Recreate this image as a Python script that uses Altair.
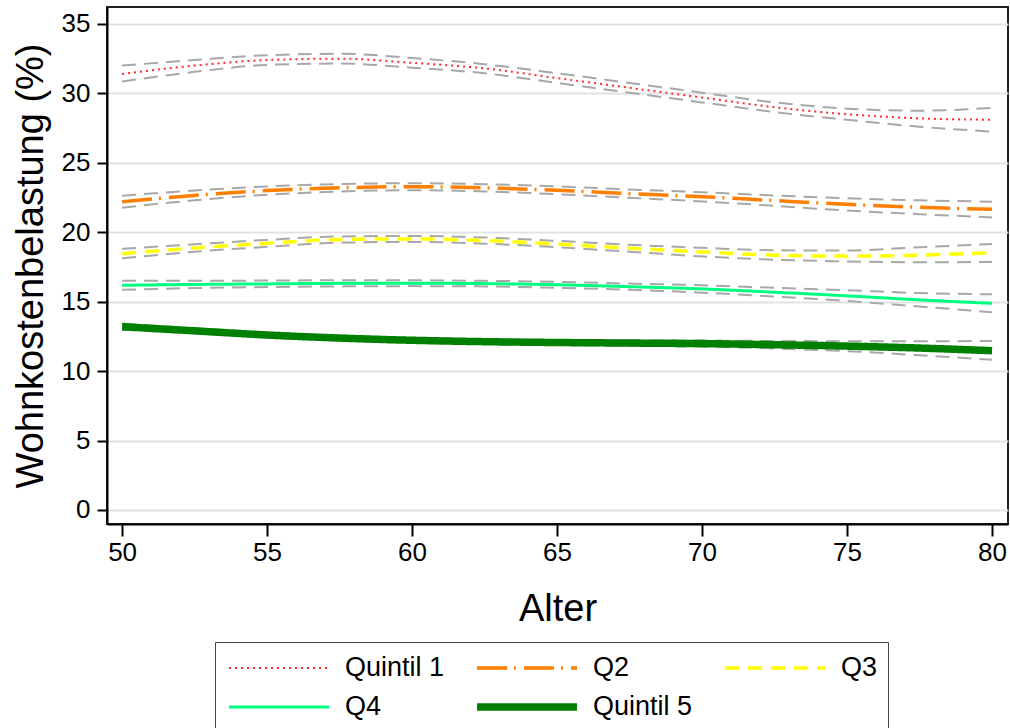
import altair as alt
import pandas as pd

# Age grid (years) and estimated housing-cost burden (%) per income quintile
ages = [50, 52.5, 55, 57.5, 60, 62.5, 65, 67.5, 70, 72.5, 75, 77.5, 80]
series = ["Quintil 1", "Q2", "Q3", "Q4", "Quintil 5"]

q1_est = [31.4, 32.0, 32.4, 32.5, 32.2, 31.8, 31.1, 30.4, 29.7, 29.0, 28.5, 28.2, 28.1]
q1_hi = [32.0, 32.4, 32.75, 32.85, 32.55, 32.1, 31.45, 30.75, 30.05, 29.35, 28.9, 28.75, 28.95]
q1_lo = [30.85, 31.55, 32.05, 32.15, 31.85, 31.45, 30.75, 30.05, 29.35, 28.65, 28.1, 27.6, 27.25]

q2_est = [22.2, 22.65, 23.0, 23.2, 23.28, 23.2, 23.02, 22.78, 22.56, 22.28, 22.01, 21.8, 21.65]
q2_hi = [22.63, 23.0, 23.3, 23.47, 23.53, 23.46, 23.3, 23.08, 22.88, 22.65, 22.44, 22.3, 22.2]
q2_lo = [21.77, 22.3, 22.7, 22.93, 23.03, 22.94, 22.74, 22.48, 22.22, 21.9, 21.56, 21.3, 21.07]

q3_est = [18.45, 18.87, 19.2, 19.48, 19.52, 19.4, 19.15, 18.85, 18.58, 18.35, 18.28, 18.35, 18.53]
q3_hi = [18.8, 19.13, 19.45, 19.7, 19.73, 19.62, 19.38, 19.1, 18.88, 18.7, 18.68, 18.92, 19.15]
q3_lo = [18.12, 18.6, 18.95, 19.25, 19.3, 19.18, 18.92, 18.6, 18.26, 18.02, 17.9, 17.84, 17.86]

q4_est = [16.18, 16.24, 16.28, 16.32, 16.33, 16.3, 16.22, 16.08, 15.92, 15.68, 15.42, 15.13, 14.88]
q4_hi = [16.5, 16.5, 16.52, 16.54, 16.54, 16.5, 16.43, 16.3, 16.18, 16.0, 15.82, 15.62, 15.53]
q4_lo = [15.85, 15.98, 16.05, 16.1, 16.12, 16.1, 16.0, 15.86, 15.65, 15.37, 15.05, 14.65, 14.24]

q5_est = [13.2, 12.9, 12.6, 12.38, 12.22, 12.12, 12.06, 12.02, 11.98, 11.9, 11.8, 11.66, 11.47]
q5_hi = [13.42, 13.08, 12.78, 12.55, 12.39, 12.29, 12.24, 12.21, 12.2, 12.17, 12.15, 12.15, 12.17]
q5_lo = [12.98, 12.72, 12.42, 12.21, 12.05, 11.95, 11.88, 11.83, 11.76, 11.63, 11.44, 11.14, 10.82]

x_ticks = [50, 55, 60, 65, 70, 75, 80]
y_ticks = [0, 5, 10, 15, 20, 25, 30, 35]

# Line styles per quintile
colors = ["#ff2a2a", "#ff7f00", "#ffff00", "#00ff7f", "#008000"]
dashes = [[2, 4], [30, 7, 2, 8], [14, 9], [1, 0], [1, 0]]
widths = [2, 3.5, 3.5, 3, 7.5]

FONT = "Liberation Sans"

est = [q1_est, q2_est, q3_est, q4_est, q5_est]
his = [q1_hi, q2_hi, q3_hi, q4_hi, q5_hi]
los = [q1_lo, q2_lo, q3_lo, q4_lo, q5_lo]

rows, ci_rows = [], []
for name, e, h, l in zip(series, est, his, los):
    for a, ev, hv, lv in zip(ages, e, h, l):
        rows.append({"series": name, "age": a, "value": ev})
        ci_rows.append({"band": name + " hi", "age": a, "value": hv})
        ci_rows.append({"band": name + " lo", "age": a, "value": lv})
df = pd.DataFrame(rows)
ci = pd.DataFrame(ci_rows)

x_enc = alt.X(
    "age:Q",
    scale=alt.Scale(domain=[49.48, 80.55], nice=False, zero=False),
    axis=alt.Axis(
        values=x_ticks, grid=False, title="Alter", titleFontSize=38,
        titleFontWeight="normal", titleFont=FONT, titleColor="black",
        titleY=96, titleBaseline="alphabetic",
        labelFont=FONT, labelFontSize=26, labelColor="black", labelPadding=3,
        tickSize=12, tickWidth=2, tickColor="black",
        domainColor="black", domainWidth=2,
    ),
)
y_axis = alt.Axis(
    values=y_ticks, grid=True, gridColor="#e2e2e2", gridWidth=2,
    title="Wohnkostenbelastung (%)", titleFontSize=38, titleFontWeight="normal",
    titleFont=FONT, titleColor="black", titleAngle=270, titleX=-65, titleY=258.5,
    titleBaseline="alphabetic", titleAlign="center",
    labelFont=FONT, labelFontSize=26, labelColor="black", labelPadding=7,
    tickSize=10, tickWidth=2, tickColor="black",
    domainColor="black", domainWidth=2,
)
y_scale = alt.Scale(domain=[-1.01, 36.22], nice=False, zero=False)

legend = alt.Legend(
    title=None, orient="none", legendX=108, legendY=635, columns=3,
    direction="horizontal",
    symbolType="stroke", symbolSize=10000, clipHeight=32, rowPadding=7,
    columnPadding=28, labelOffset=12, padding=10, strokeColor="#444444",
    labelFont=FONT, labelFontSize=27, labelColor="black", labelBaseline="middle",
)

# Confidence bounds (grey dashed), drawn beneath the point estimates
bands = alt.Chart(ci).mark_line(
    interpolate="monotone", color="#a8a8a8", strokeWidth=2, strokeDash=[14, 8], strokeCap="butt"
).encode(
    x=x_enc,
    y=alt.Y("value:Q", scale=y_scale, axis=y_axis),
    detail="band:N",
)

lines = alt.Chart(df).mark_line(interpolate="monotone", strokeCap="butt").encode(
    x=x_enc,
    y=alt.Y("value:Q", scale=y_scale, axis=y_axis),
    color=alt.Color("series:N", scale=alt.Scale(domain=series, range=colors), legend=legend),
    strokeDash=alt.StrokeDash("series:N", scale=alt.Scale(domain=series, range=dashes), legend=legend),
    strokeWidth=alt.StrokeWidth(
        "series:N", scale=alt.Scale(type="ordinal", domain=series, range=widths), legend=legend
    ),
)

chart = alt.layer(bands, lines).properties(
    width=901,
    height=517,
    autosize=alt.AutoSizeParams(type="none"),
    padding={"left": 107, "top": 7, "right": 2, "bottom": 204},
    background="white",
).configure_view(stroke="#222222", strokeWidth=2)

chart.save("out.html", embed_options={"renderer": "svg", "actions": False})
